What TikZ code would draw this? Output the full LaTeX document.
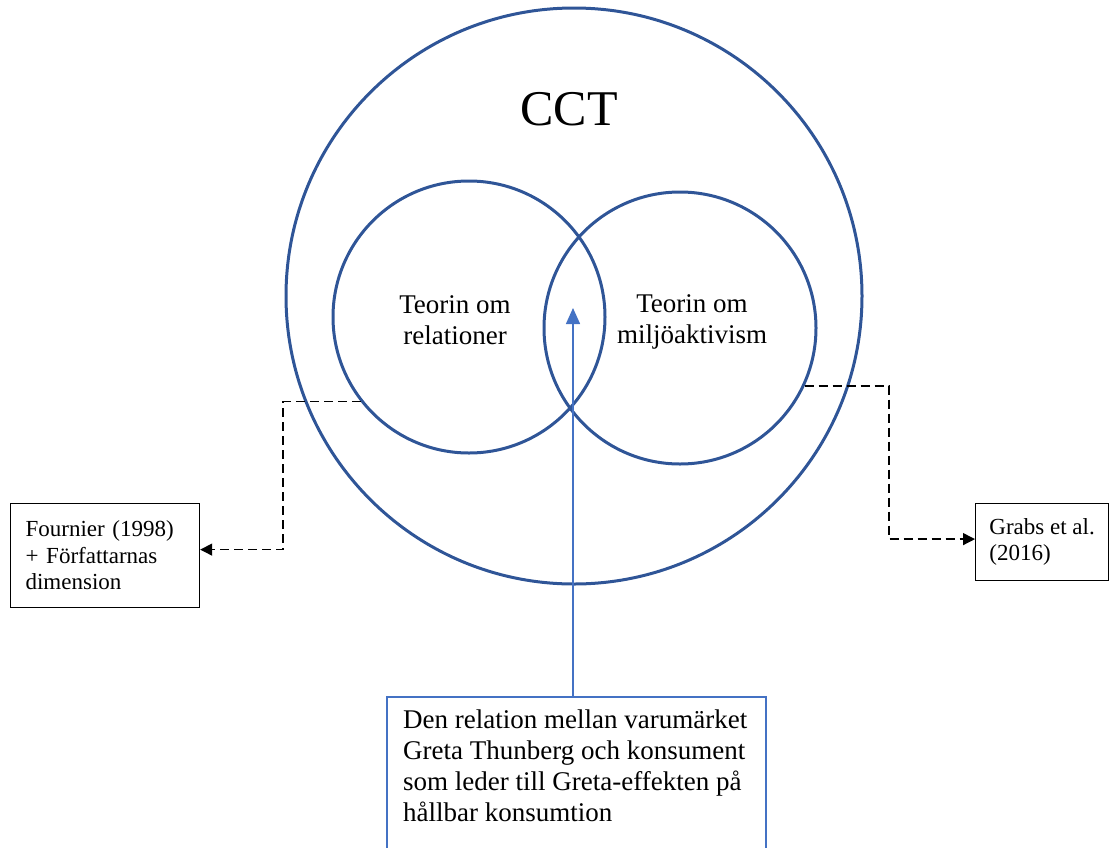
\documentclass[tikz,border=0pt]{standalone}
\usepackage{fontspec}
\setmainfont{Liberation Serif}
\usetikzlibrary{arrows.meta}
\definecolor{circblue}{HTML}{2F5597}
\definecolor{lightblue}{HTML}{4472C4}
\tikzset{
  ring/.style={circle, draw=circblue, line width=3pt, inner sep=0pt},
  txt/.style={font=\fontsize{27}{30.7}\selectfont},
  smalltxt/.style={font=\fontsize{23}{26.5}\selectfont},
  refbox/.style={draw=black, line width=1.2pt, smalltxt, align=left, inner ysep=6pt},
  dashlink/.style={draw=black, line width=1.3pt, dash pattern=on 9pt off 5pt, -{Triangle[length=12pt,width=12pt]}},
  bluelink/.style={draw=lightblue, line width=1.5pt, -{Triangle[length=16pt,width=14pt]}},
  bluebox/.style={draw=lightblue, line width=2.2pt}
}
\begin{document}
\begin{tikzpicture}[x=1pt,y=-1pt]
\useasboundingbox (0,0) rectangle (1109,847);
\node[ring, minimum size=576pt] (cct) at (574,296) {};
\node[font=\fontsize{50}{60}\selectfont] (cctlabel) at (569,109) {CCT};
\node[ring, minimum size=272pt] (lc) at (469,317) {};
\node[ring, minimum size=272pt] (rc) at (680,328) {};
\node[txt, align=center] (lt) at (455,320) {Teorin om\\relationer};
\node[txt, align=center] (rt) at (692,322) {Teorin om\\miljöaktivism};
\node[refbox, anchor=north west, minimum height=104pt, text width=159pt, inner xsep=15pt] (fb) at (10,503) {Fournier (1998)\\+ Författarnas\\dimension};
\node[refbox, anchor=north west, minimum height=77pt, minimum width=133pt] (gb) at (975,503) {Grabs et al.\\(2016)};
\node[bluebox, anchor=north west, minimum width=379pt, minimum height=190pt, inner sep=0pt] (bb) at (386,696) {};
\node[txt, anchor=north west, align=left, inner sep=0pt] (bt) at (403,710) {Den relation mellan varumärket\\Greta Thunberg och konsument\\som leder till Greta-effekten på\\hållbar konsumtion};
\coordinate (tip) at (573,308);
\coordinate (lk) at (283,0);
\coordinate (rk) at (889,0);
\draw[dashlink] (lc.218) -- (lc.218 -| lk) |- ([yshift=6pt]fb.east);
\draw[dashlink] (rc.-25) -- (rc.-25 -| rk) |- ([yshift=3pt]gb.west);
\draw[bluelink] (bb.north -| tip) -- (tip);
\end{tikzpicture}
\end{document}
